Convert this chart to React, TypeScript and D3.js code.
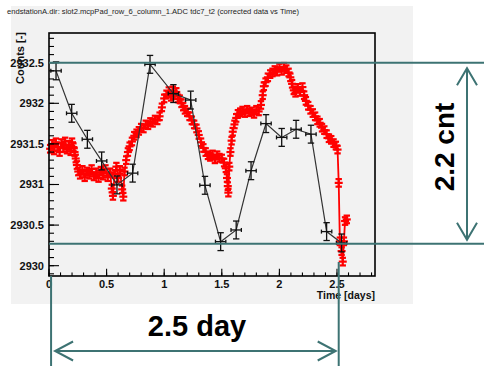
import React from "react";
import * as d3 from "d3";

const W = 484;
const H = 366;

const titleText = "endstationA.dir: slot2.mcpPad_row_6_column_1.ADC tdc7_t2 (corrected data vs Time)";
const xTickValues = [0, 0.5, 1, 1.5, 2, 2.5];
const xTickLabels = ["0", "0.5", "1", "1.5", "2", "2.5"];
const yTickValues = [2930, 2930.5, 2931, 2931.5, 2932, 2932.5];
const yTickLabels = ["2930", "2930.5", "2931", "2931.5", "2932", "2932.5"];

// black series (with error bars)
const blackT = [0.061, 0.197, 0.333, 0.457, 0.59, 0.726, 0.877, 1.08, 1.23, 1.354, 1.49, 1.625, 1.754, 1.884, 2.02, 2.145, 2.274, 2.41, 2.54];
const blackV = [2932.40, 2931.877, 2931.557, 2931.29, 2930.995, 2931.14, 2932.48, 2932.12, 2932.04, 2930.99, 2930.296, 2930.44, 2931.17, 2931.75, 2931.58, 2931.68, 2931.62, 2930.42, 2930.28];
const blackErrT = 0.045;
const blackErrV = 0.11;

// red series (corrected data)
const redT = [
  0.010, 0.028, 0.044, 0.060, 0.076, 0.092, 0.108, 0.124, 0.140, 0.156, 0.172, 0.188, 0.200, 0.212, 0.222,
  0.232, 0.242, 0.254, 0.270, 0.290, 0.310, 0.330, 0.350, 0.370, 0.390, 0.410, 0.430, 0.450, 0.470, 0.490,
  0.510, 0.530, 0.545, 0.555, 0.570, 0.585, 0.600, 0.615, 0.635, 0.645, 0.655, 0.670, 0.685, 0.700, 0.720,
  0.740, 0.760, 0.780, 0.800, 0.820, 0.840, 0.860, 0.880, 0.900, 0.920, 0.940, 0.960, 0.980, 1.000, 1.020,
  1.040, 1.060, 1.075, 1.090, 1.105, 1.120, 1.135, 1.150, 1.165, 1.180, 1.200, 1.220, 1.240, 1.260, 1.280,
  1.300, 1.320, 1.340, 1.360, 1.380, 1.400, 1.420, 1.440, 1.460, 1.480, 1.500, 1.520, 1.535, 1.545, 1.552,
  1.557, 1.565, 1.575, 1.585, 1.595, 1.610, 1.625, 1.640, 1.660, 1.680, 1.700, 1.720, 1.740, 1.760, 1.780,
  1.800, 1.820, 1.840, 1.855, 1.865, 1.880, 1.900, 1.920, 1.940, 1.960, 1.980, 2.000, 2.020, 2.040, 2.060,
  2.080, 2.095, 2.110, 2.125, 2.140, 2.160, 2.180, 2.200, 2.215, 2.230, 2.250, 2.270, 2.290, 2.310, 2.330,
  2.350, 2.370, 2.390, 2.410, 2.430, 2.450, 2.470, 2.490, 2.505, 2.515, 2.525, 2.540, 2.550, 2.560, 2.570,
  2.585,
];
const redV = [
  2931.44, 2931.50, 2931.42, 2931.52, 2931.46, 2931.40, 2931.51, 2931.45, 2931.53, 2931.43, 2931.49, 2931.41, 2931.52, 2931.46, 2931.40,
  2931.32, 2931.24, 2931.16, 2931.12, 2931.18, 2931.09, 2931.16, 2931.12, 2931.19, 2931.10, 2931.15, 2931.08, 2931.17, 2931.11, 2931.19,
  2931.09, 2931.15, 2930.95, 2930.86, 2931.13, 2931.22, 2931.08, 2931.18, 2930.94, 2930.85, 2931.16, 2931.30, 2931.40, 2931.47, 2931.53,
  2931.60, 2931.63, 2931.66, 2931.70, 2931.69, 2931.74, 2931.73, 2931.77, 2931.76, 2931.80, 2931.79, 2931.84, 2931.95, 2932.06, 2932.11,
  2932.15, 2932.08, 2932.16, 2932.10, 2932.14, 2932.06, 2932.05, 2932.00, 2931.96, 2931.92, 2931.89, 2931.84, 2931.79, 2931.74, 2931.69,
  2931.61, 2931.52, 2931.45, 2931.40, 2931.36, 2931.34, 2931.37, 2931.31, 2931.36, 2931.33, 2931.32, 2931.27, 2931.20, 2931.08, 2930.98,
  2930.90, 2931.22, 2931.40, 2931.54, 2931.65, 2931.74, 2931.82, 2931.87, 2931.89, 2931.91, 2931.88, 2931.92, 2931.89, 2931.90, 2931.87,
  2931.92, 2931.90, 2931.98, 2932.10, 2932.21, 2932.26, 2932.32, 2932.36, 2932.38, 2932.41, 2932.39, 2932.44, 2932.40, 2932.45, 2932.42,
  2932.38, 2932.32, 2932.24, 2932.16, 2932.13, 2932.19, 2932.14, 2932.20, 2932.10, 2932.03, 2931.97, 2931.92, 2931.88, 2931.84, 2931.79,
  2931.76, 2931.70, 2931.67, 2931.62, 2931.57, 2931.55, 2931.51, 2931.48, 2931.43, 2931.02, 2930.30, 2930.18, 2930.05, 2930.30, 2930.55,
  2930.57,
];

// annotation values
const spanTimeStart = 0.018;
const spanTimeEnd = 2.515;
const spanCountTop = 2932.5;
const spanCountBottom = 2930.27;
const annotTime = "2.5 day";
const annotCount = "2.2 cnt";

const TEAL = "#3d7373";
const FONT = "'Liberation Sans', Arial, Helvetica, sans-serif";

export default function App() {
  const plot = { left: 49, right: 375, top: 33, bottom: 276 };
  const x = d3.scaleLinear().domain([0, 2.83]).range([plot.left, plot.right]);
  const y = d3.scaleLinear().domain([2929.873, 2932.866]).range([plot.bottom, plot.top]);

  const xMinor = d3.range(0, 2.83, 0.1);
  const yMinor = d3.range(2929.9, 2932.866, 0.1);

  const blackLine = d3.line<number>().x((_, i) => x(blackT[i])).y((_, i) => y(blackV[i]))(blackT) || "";
  const redLine = d3.line<number>().x((_, i) => x(redT[i])).y((_, i) => y(redV[i]))(redT) || "";

  const yTop = y(spanCountTop);
  const yBot = y(spanCountBottom);
  const xL = x(spanTimeStart);
  const xR = x(spanTimeEnd);
  const arrowX = 467;
  const arrowY = 351;

  return (
    <svg width={W} height={H} style={{ position: "absolute", left: 0, top: 0, background: "#ffffff" }}>
      <rect x={0} y={0} width={W} height={H} fill="#ffffff" />
      <rect x={11} y={6} width={402} height={298} fill="#f2f2f2" />
      <text x={7} y={14} fontFamily={FONT} fontSize={6.5} fill="#222" textLength={292} lengthAdjust="spacingAndGlyphs">
        {titleText}
      </text>

      {/* red series */}
      <path d={redLine} fill="none" stroke="#ff0000" strokeWidth={1.8} />
      {redT.map((t, i) => {
        const cx = x(t);
        const cy = y(redV[i]);
        return (
          <g key={"r" + i} stroke="#ff0000" strokeWidth={2.2}>
            <line x1={cx - 4} x2={cx + 4} y1={cy} y2={cy} />
            <line x1={cx} x2={cx} y1={cy - 4} y2={cy + 4} />
            <line x1={cx - 3.2} x2={cx + 3.2} y1={cy - 3.8} y2={cy - 3.8} />
            <line x1={cx - 3.2} x2={cx + 3.2} y1={cy + 3.8} y2={cy + 3.8} />
          </g>
        );
      })}

      {/* black series */}
      <path d={blackLine} fill="none" stroke="#333" strokeWidth={1.2} />
      {blackT.map((t, i) => {
        const cx = x(t);
        const cy = y(blackV[i]);
        const x0 = x(t - blackErrT);
        const x1 = x(t + blackErrT);
        const y0 = y(blackV[i] + blackErrV);
        const y1 = y(blackV[i] - blackErrV);
        return (
          <g key={"b" + i} stroke="#111" strokeWidth={1.3}>
            <line x1={x0} x2={x1} y1={cy} y2={cy} />
            <line x1={cx} x2={cx} y1={y0} y2={y1} />
            <line x1={cx - 3.2} x2={cx + 3.2} y1={y0} y2={y0} />
            <line x1={cx - 3.2} x2={cx + 3.2} y1={y1} y2={y1} />
            <line x1={x0} x2={x0} y1={cy - 2} y2={cy + 2} />
            <line x1={x1} x2={x1} y1={cy - 2} y2={cy + 2} />
          </g>
        );
      })}

      {/* frame */}
      <rect x={plot.left} y={plot.top} width={plot.right - plot.left} height={plot.bottom - plot.top} fill="none" stroke="#000" strokeWidth={1.6} />

      {/* x ticks */}
      {xMinor.map((v, i) => (
        <line key={"xm" + i} x1={x(v)} x2={x(v)} y1={plot.bottom} y2={plot.bottom - 3.6} stroke="#000" strokeWidth={1.1} />
      ))}
      {xTickValues.map((v, i) => (
        <g key={"xt" + i}>
          <line x1={x(v)} x2={x(v)} y1={plot.bottom} y2={plot.bottom - 7.3} stroke="#000" strokeWidth={1.1} />
          <text x={x(v)} y={288} textAnchor="middle" fontFamily={FONT} fontWeight="bold" fontSize={11} fill="#111">
            {xTickLabels[i]}
          </text>
        </g>
      ))}
      {/* y ticks */}
      {yMinor.map((v, i) => (
        <line key={"ym" + i} x1={plot.left} x2={plot.left + 5} y1={y(v)} y2={y(v)} stroke="#000" strokeWidth={1.1} />
      ))}
      {yTickValues.map((v, i) => (
        <g key={"yt" + i}>
          <line x1={plot.left} x2={plot.left + 10} y1={y(v)} y2={y(v)} stroke="#000" strokeWidth={1.1} />
          <text x={44} y={y(v) + 4} textAnchor="end" fontFamily={FONT} fontWeight="bold" fontSize={11} fill="#111">
            {yTickLabels[i]}
          </text>
        </g>
      ))}
      <text x={375} y={298.5} textAnchor="end" fontFamily={FONT} fontWeight="bold" fontSize={10.5} fill="#111">
        Time [days]
      </text>
      <text transform={`translate(24,32) rotate(-90)`} textAnchor="end" fontFamily={FONT} fontWeight="bold" fontSize={11} fill="#111">
        Counts [-]
      </text>

      {/* annotations */}
      <g stroke={TEAL} strokeWidth={2} fill="none">
        <line x1={plot.left} x2={W} y1={yTop} y2={yTop} />
        <line x1={plot.left} x2={W} y1={yBot} y2={yBot} />
        <line x1={xL} x2={xL} y1={plot.bottom} y2={H} />
        <line x1={xR} x2={xR} y1={262} y2={H} />
        <line x1={arrowX} x2={arrowX} y1={yTop + 5.5} y2={yBot - 4} />
        <polyline points={`${arrowX - 10},${yTop + 22.5} ${arrowX},${yTop + 5.5} ${arrowX + 10},${yTop + 22.5}`} />
        <polyline points={`${arrowX - 10},${yBot - 21} ${arrowX},${yBot - 4} ${arrowX + 10},${yBot - 21}`} />
        <line x1={xL + 4} x2={xR - 3} y1={arrowY} y2={arrowY} />
        <polyline points={`${xL + 22},${arrowY - 9.5} ${xL + 4},${arrowY} ${xL + 22},${arrowY + 9.5}`} />
        <polyline points={`${xR - 21},${arrowY - 9.5} ${xR - 3},${arrowY} ${xR - 21},${arrowY + 9.5}`} />
      </g>
      <text x={197} y={336} textAnchor="middle" fontFamily={FONT} fontWeight="bold" fontSize={29} fill="#000">
        {annotTime}
      </text>
      <text transform={`translate(454,147) rotate(-90)`} textAnchor="middle" fontFamily={FONT} fontWeight="bold" fontSize={28} fill="#000">
        {annotCount}
      </text>
    </svg>
  );
}
